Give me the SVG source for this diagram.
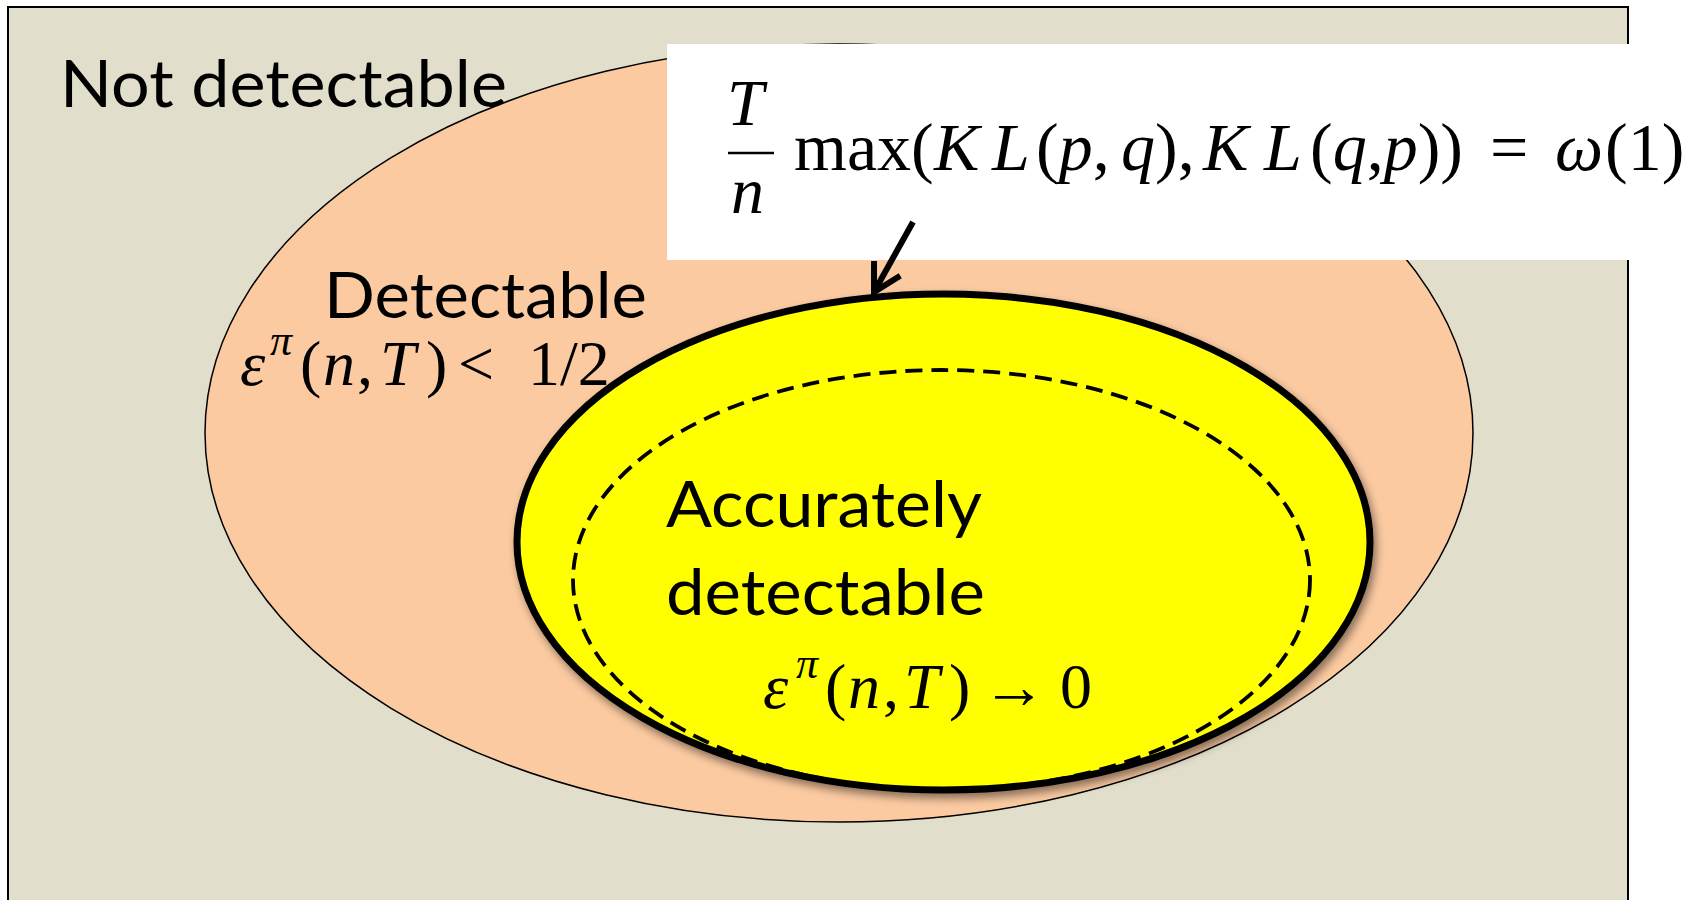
<svg xmlns="http://www.w3.org/2000/svg" width="1696" height="900" viewBox="0 0 1696 900">
<style>
.sans{font-family:Lato,"Open Sans","Liberation Sans",sans-serif;fill:#000}
.math{font-family:"Liberation Serif","DejaVu Serif",serif;fill:#000}
.it{font-style:italic}
</style>
<defs>
<filter id="shadow" x="-10%" y="-10%" width="130%" height="130%">
<feDropShadow dx="3" dy="5" stdDeviation="4" flood-color="#000" flood-opacity="0.45"/>
</filter>
<marker id="arr" viewBox="0 0 12 12" refX="10" refY="6" markerWidth="6" markerHeight="6" orient="auto" markerUnits="strokeWidth">
<path d="M1,1 L10,6 L1,11" fill="none" stroke="#000" stroke-width="2"/>
</marker>
</defs>
<rect x="0" y="0" width="1696" height="900" fill="#fff"/>
<g id="background">
<rect x="8" y="7" width="1620" height="910" fill="#E1DECC" stroke="#000" stroke-width="2"/>
</g>
<g id="detectable">
<ellipse cx="839" cy="433" rx="634" ry="389" fill="#FBCAA1" stroke="#000" stroke-width="1.5"/>
</g>
<g id="accurate">
<ellipse cx="943.5" cy="542" rx="426.5" ry="248" fill="#FFFF00" stroke="#000" stroke-width="7" filter="url(#shadow)"/>
<ellipse cx="941.5" cy="580" rx="368.5" ry="210" fill="none" stroke="#000" stroke-width="3.8" stroke-dasharray="17 9"/>
</g>
<g id="labelbox">
<rect x="667" y="44" width="1029" height="216" fill="#fff"/>
</g>
<g id="connectors">
<line x1="913" y1="222" x2="874" y2="292" stroke="#000" stroke-width="6" marker-end="url(#arr)"/>
</g>
<g id="texts">
<text class="sans" x="60" y="107" font-size="66" textLength="447" lengthAdjust="spacingAndGlyphs">Not detectable</text>
<text class="sans" x="324" y="318" font-size="64" textLength="323" lengthAdjust="spacingAndGlyphs">Detectable</text>
<text class="sans" x="666" y="527" font-size="63" textLength="316" lengthAdjust="spacingAndGlyphs">Accurately</text>
<text class="sans" x="666" y="615" font-size="63" textLength="319" lengthAdjust="spacingAndGlyphs">detectable</text>
<text class="math" y="385" font-size="64"><tspan class="it" x="240">ε</tspan><tspan class="it" x="270" y="355" font-size="44">π</tspan><tspan x="300" y="385">(</tspan><tspan class="it" x="323">n</tspan><tspan x="357">,</tspan><tspan class="it" x="380">T</tspan><tspan x="426">)</tspan><tspan x="458">&lt;</tspan><tspan x="528">1/2</tspan></text>
<text class="math" y="708" font-size="64"><tspan class="it" x="763">ε</tspan><tspan class="it" x="796" y="678" font-size="44">π</tspan><tspan x="825" y="708">(</tspan><tspan class="it" x="848">n</tspan><tspan x="883">,</tspan><tspan class="it" x="904">T</tspan><tspan x="949">)</tspan><tspan x="982">→</tspan><tspan x="1060">0</tspan></text>
<text class="math it" x="727" y="125" font-size="66">T</text>
<line x1="728" y1="153" x2="774" y2="153" stroke="#000" stroke-width="2.5"/>
<text class="math it" x="731" y="213" font-size="66">n</text>
<text class="math" y="170" font-size="68"><tspan x="794">max(</tspan><tspan class="it" x="934">K</tspan><tspan class="it" x="992">L</tspan><tspan x="1036">(<tspan class="it">p</tspan>,</tspan><tspan class="it" x="1121">q</tspan><tspan x="1155">),</tspan><tspan class="it" x="1203">K</tspan><tspan class="it" x="1264">L</tspan><tspan x="1310">(<tspan class="it">q</tspan>,<tspan class="it">p</tspan>))</tspan><tspan x="1490">=</tspan><tspan class="it" x="1555">ω</tspan><tspan x="1605">(1)</tspan></text>
</g>
</svg>
